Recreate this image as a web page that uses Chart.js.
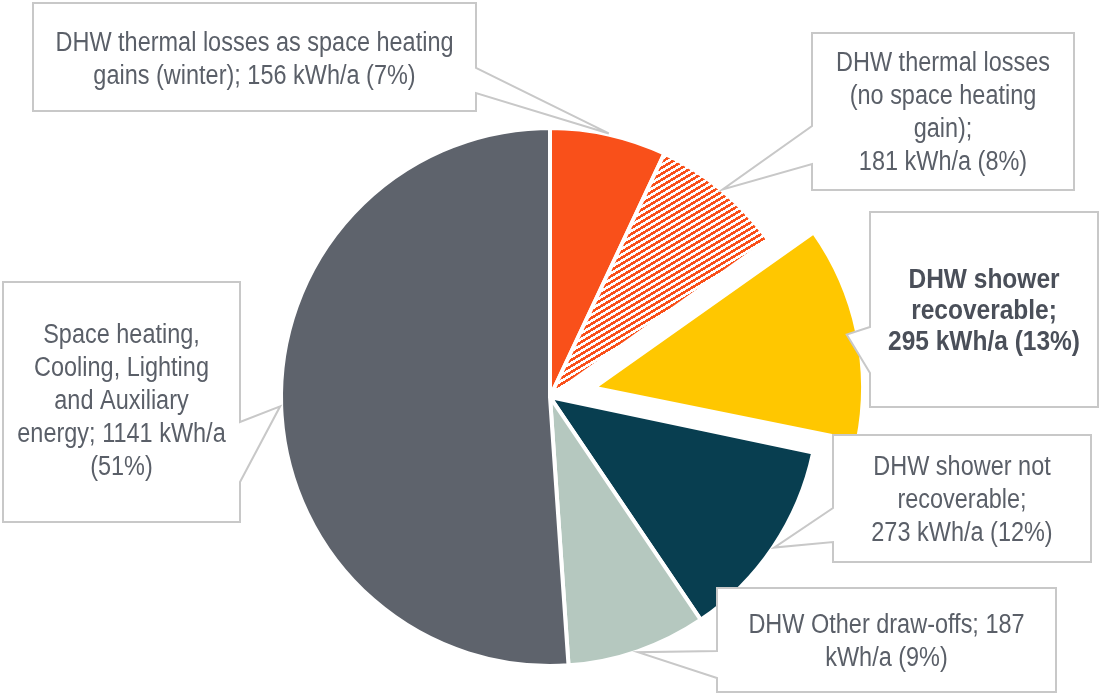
<!DOCTYPE html>
<html><head><meta charset="utf-8">
<script src="https://cdn.jsdelivr.net/npm/chart.js@4/dist/chart.umd.min.js"></script>
<style>html,body{margin:0;padding:0;background:#fff;overflow:hidden}#wrap{position:relative;width:1101px;height:696px}</style>
</head><body><div id="wrap"><canvas id="c" width="1101" height="696"></canvas></div>
<script>
// ---- data ----
const categories = [
  "DHW thermal losses as space heating gains (winter)",
  "DHW thermal losses (no space heating gain)",
  "DHW shower recoverable",
  "DHW shower not recoverable",
  "DHW Other draw-offs",
  "Space heating, Cooling, Lighting and Auxiliary energy"
];
const values = [156, 181, 295, 273, 187, 1141];
const percents = [7, 8, 13, 12, 9, 51];
const labelLines = [
  ["DHW thermal losses as space heating", "gains (winter); 156 kWh/a (7%)"],
  ["DHW thermal losses", "(no space heating", "gain);", "181 kWh/a (8%)"],
  ["DHW shower", "recoverable;", "295 kWh/a (13%)"],
  ["DHW shower not", "recoverable;", "273 kWh/a (12%)"],
  ["DHW Other draw-offs; 187", "kWh/a (9%)"],
  ["Space heating,", "Cooling, Lighting", "and Auxiliary", "energy; 1141 kWh/a", "(51%)"]
];
const explode = [0, 0, 1, 0, 0, 0];
const boldLabel = [false, false, true, false, false, false];

// ---- styles / layout ----
const ORANGE = "#F9501A";
const colors = [ORANGE, null, "#FFC700", "#083E50", "#B5C8BF", "#5E636C"];
const FONT = "'Liberation Sans',Arial,sans-serif";
const FONT_SIZE = 27;
const boxes = [
  {x: 33,  y: 3,   w: 443, h: 108, side: "right", p1: 68,  p2: 93,  dy: 3},
  {x: 812, y: 33,  w: 262, h: 157, side: "left",  p1: 126, p2: 164, dy: 2},
  {x: 870, y: 212, w: 228, h: 195, side: "left",  p1: 327, p2: 373, dy: 2},
  {x: 833, y: 435, w: 258, h: 127, side: "left",  p1: 508, p2: 542, dy: 2},
  {x: 717, y: 588, w: 339, h: 104, side: "left",  p1: 651, p2: 678, dy: 2},
  {x: 3,   y: 282, w: 237, h: 240, side: "right", p1: 422, p2: 482, dy: 0}
];

function hatchPattern() {
  const W = 10, H = 6;
  const t = document.createElement("canvas");
  t.width = W; t.height = H;
  const g = t.getContext("2d");
  g.fillStyle = "#fff"; g.fillRect(0, 0, W, H);
  g.fillStyle = ORANGE;
  for (let x = 0; x < W; x++) {
    const yc = Math.floor((W - 1 - x) * H / W);
    for (let k = 0; k < 3; k++) {
      g.fillRect(x, (yc + k) % H, 1, 1);
    }
  }
  return g.createPattern(t, "repeat");
}
const ctx0 = document.getElementById("c").getContext("2d");
colors[1] = hatchPattern();

const explodeFix = {
  id: "explodeFix",
  afterDatasetUpdate(chart, args) {
    args.meta.data.forEach(a => {
      const off = (a.options.offset || 0) / 4;
      if (off) {
        const circ = a.endAngle - a.startAngle;
        const fix = 1 - Math.sin(Math.min(Math.PI, circ));
        a.outerRadius -= off * fix;
      }
    });
  }
};

const callouts = {
  id: "callouts",
  afterDraw(chart) {
    const ctx = chart.ctx;
    const arcs = chart.getDatasetMeta(0).data;
    ctx.save();
    ctx.font = FONT_SIZE + "px " + FONT;
    const sxReg = 398 / ctx.measureText(labelLines[0][0]).width;
    ctx.font = "bold " + FONT_SIZE + "px " + FONT;
    const sxBold = 192 / ctx.measureText(labelLines[2][2]).width;
    arcs.forEach((a, i) => {
      const b = boxes[i];
      const mid = (a.startAngle + a.endAngle) / 2;
      const off = (a.options.offset || 0) / 4;
      const r = a.outerRadius + 1 + off;
      const tx = a.x + Math.cos(mid) * r, ty = a.y + Math.sin(mid) * r;
      ctx.beginPath();
      if (b.side === "right") {
        ctx.moveTo(b.x, b.y); ctx.lineTo(b.x + b.w, b.y); ctx.lineTo(b.x + b.w, b.p1);
        ctx.lineTo(tx, ty); ctx.lineTo(b.x + b.w, b.p2); ctx.lineTo(b.x + b.w, b.y + b.h);
        ctx.lineTo(b.x, b.y + b.h);
      } else {
        ctx.moveTo(b.x, b.y); ctx.lineTo(b.x + b.w, b.y); ctx.lineTo(b.x + b.w, b.y + b.h);
        ctx.lineTo(b.x, b.y + b.h); ctx.lineTo(b.x, b.p2); ctx.lineTo(tx, ty); ctx.lineTo(b.x, b.p1);
      }
      ctx.closePath();
      ctx.fillStyle = "#fff"; ctx.fill();
      ctx.strokeStyle = "#C8C8C8"; ctx.lineWidth = 2; ctx.lineJoin = "miter"; ctx.stroke();
      const lines = labelLines[i];
      const bold = boldLabel[i];
      const lh = bold ? 31 : 33;
      ctx.font = (bold ? "bold " : "") + FONT_SIZE + "px " + FONT;
      ctx.fillStyle = bold ? "#4A4F59" : "#5A5F68";
      ctx.textAlign = "center"; ctx.textBaseline = "middle";
      const cx = b.x + b.w / 2;
      const cy = b.y + b.h / 2 + b.dy;
      const sx = bold ? sxBold : sxReg;
      lines.forEach((t, k) => {
        ctx.save();
        ctx.translate(cx, cy + (k - (lines.length - 1) / 2) * lh);
        ctx.scale(sx, 1);
        ctx.fillText(t, 0, 0);
        ctx.restore();
      });
    });
    ctx.restore();
  }
};

new Chart(ctx0, {
  type: "pie",
  data: {
    labels: categories,
    datasets: [{
      data: values,
      backgroundColor: colors,
      borderColor: "#fff",
      borderWidth: 4,
      offset: explode.map(e => e * 180),
      hoverOffset: 0
    }]
  },
  options: {
    responsive: false,
    animation: false,
    radius: 269,
    layout: {padding: {top: 98, bottom: 0, left: 0, right: 1}},
    plugins: {legend: {display: false}, tooltip: {enabled: false}, title: {display: false}},
    events: []
  },
  plugins: [explodeFix, callouts]
});
</script>
</body></html>
